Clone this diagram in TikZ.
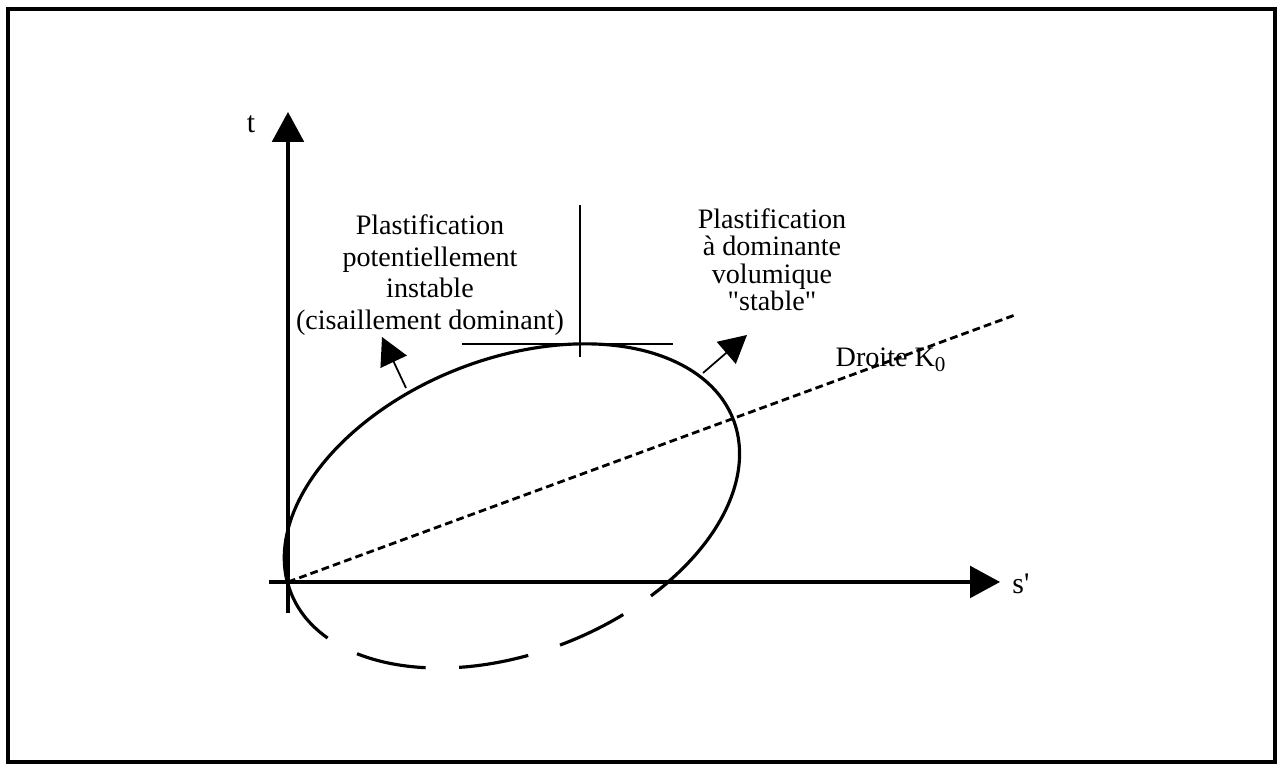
\documentclass[tikz,border=0pt]{standalone}
\usepackage{fontspec}
\setmainfont{Liberation Serif}
\usetikzlibrary{positioning, arrows.meta, calc}
\begin{document}
\begin{tikzpicture}[x=0.01cm, y=0.01cm]
	\tikzset{
		axis/.style={line width=0.9pt, -{Triangle[length=8.5pt, width=9pt]}},
		normal arrow/.style={line width=0.5pt, -{Triangle[length=7.8pt, width=8.2pt]}},
		label text/.style={font=\fontsize{8}{9}\selectfont, align=center, inner sep=0pt},
		surface/.style={line width=0.9pt}
	}
	\useasboundingbox (0,0) rectangle (1278,765);
	\draw[line width=0.9pt] (8,3) rectangle (1275,756);
	\coordinate (O) at (288,183);
	\coordinate (tbot) at (288,152);
	\coordinate (ttop) at (288,653);
	\coordinate (sleft) at (269,183);
	\coordinate (sright) at (1000,183);
	\draw[axis] (tbot) -- (ttop);
	\draw[axis] (sleft) -- (sright);
	\node[label text, font=\fontsize{8.5}{9}\selectfont] (tlab) at (251,641) {t};
	\node[label text, font=\fontsize{8.5}{9}\selectfont] (slab) at (1021,181) {s\textquotesingle};
	\begin{scope}[shift={(512,259)}, rotate=21.4]
		\draw[surface] ({237.5*cos(-60.5)},{147*sin(-60.5)})
			arc[start angle=-60.5, end angle=175.7, x radius=2.375cm, y radius=1.47cm];
		\draw[surface, dash pattern=on 20pt off 9.5pt] ({237.5*cos(175.7)},{147*sin(175.7)})
			arc[start angle=175.7, end angle=299.5, x radius=2.375cm, y radius=1.47cm];
	\end{scope}
	\coordinate (hl) at (462,421);
	\coordinate (hr) at (673,421);
	\coordinate (vt) at (580,560);
	\coordinate (vb) at (580,408);
	\draw[line width=0.8pt] (hl) -- (hr);
	\draw[line width=0.8pt] (vt) -- (vb);
	\coordinate (k0end) at (1015,450);
	\draw[line width=0.8pt, dash pattern=on 2.2pt off 1.2pt] (O) -- (k0end);
	\node[label text, anchor=base west] (k0) at (835,398) {Droite K\textsubscript{0}};
	\coordinate (lfoot) at (406,377);
	\coordinate (ltip) at (382,428);
	\coordinate (rfoot) at (703,392);
	\coordinate (rtip) at (747,430);
	\draw[normal arrow] (lfoot) -- (ltip);
	\draw[normal arrow] (rfoot) -- (rtip);
	\node[label text, anchor=north] (shear) at (430,551) {Plastification\\potentiellement\\instable\\(cisaillement dominant)};
	\node[label text, font=\fontsize{8}{7.8}\selectfont, anchor=north] (volume) at (772,557) {Plastification\\à dominante\\volumique\\\textquotedbl stable\textquotedbl};
\end{tikzpicture}
\end{document}
